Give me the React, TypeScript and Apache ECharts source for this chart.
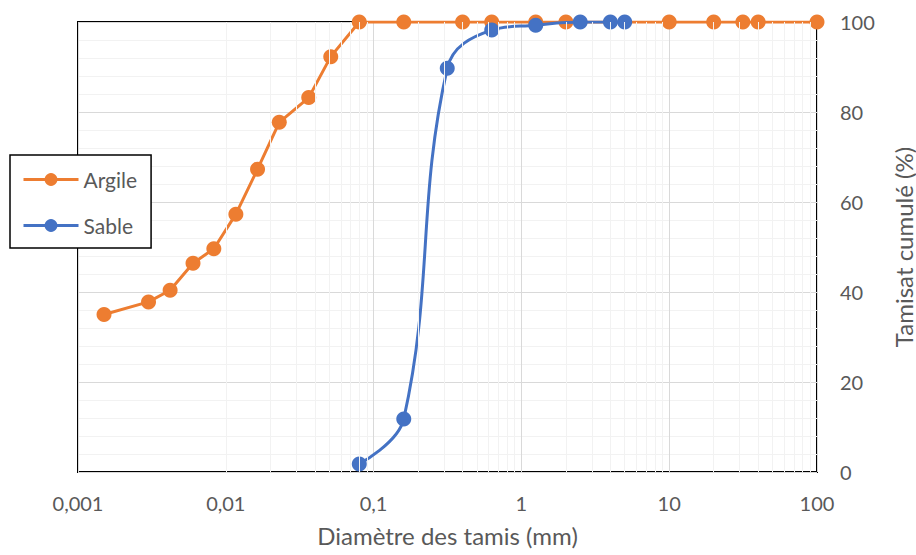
import React, { useEffect, useRef } from "react";
import * as echarts from "echarts";

const argileX = [0.0015, 0.003, 0.0042, 0.006, 0.0083, 0.0117, 0.0164, 0.023, 0.0364, 0.0513, 0.08, 0.16, 0.4, 0.63, 1.25, 2, 10, 20, 31.5, 40, 100];
const argileY = [35, 37.8, 40.4, 46.4, 49.6, 57.3, 67.3, 77.7, 83.2, 92.3, 100, 100, 100, 100, 100, 100, 100, 100, 100, 100, 100];
const sableX = [0.08, 0.16, 0.315, 0.63, 1.25, 2.5, 4, 5];
const sableY = [1.8, 11.8, 89.7, 98.2, 99.3, 100, 100, 100];
const xTickLabels = ["0,001", "0,01", "0,1", "1", "10", "100"];
const yTicks = [0, 20, 40, 60, 80, 100];

const FONT = "Lato";
const TEXT = "#595959";

export default function App() {
  const ref = useRef<HTMLDivElement>(null);
  useEffect(() => {
    if (!ref.current) return;
    const chart = echarts.init(ref.current, null, { renderer: "svg" });
    const minorX: number[] = [];
    for (let e = -3; e <= 1; e++) {
      for (let k = 2; k <= 9; k++) minorX.push(+(k * Math.pow(10, e)).toPrecision(3));
    }
    const decades = [0.001, 0.01, 0.1, 1, 10, 100];
    chart.setOption({
      animation: false,
      textStyle: { fontFamily: FONT },
      grid: {
        left: 78, top: 22, width: 739, height: 450,
        containLabel: false,
        outerBoundsMode: "none",
        show: true, borderColor: "#000", borderWidth: 2, backgroundColor: "transparent",
      },
      legend: {
        data: ["Argile", "Sable"],
        orient: "vertical",
        left: 10, top: 155,
        padding: [14, 14, 12, 12],
        itemWidth: 55, itemHeight: 16, itemGap: 25,
        backgroundColor: "#fff",
        borderColor: "#000", borderWidth: 1.5, borderRadius: 0,
        lineStyle: { width: 3 },
        textStyle: { color: TEXT, fontSize: 21, fontFamily: FONT },
      },
      xAxis: {
        type: "log", logBase: 10, min: 0.001, max: 100,
        name: "Diamètre des tamis (mm)",
        nameLocation: "middle", nameGap: 51,
        nameTextStyle: { color: TEXT, fontSize: 24, fontFamily: FONT },
        axisLine: { show: false }, axisTick: { show: false },
        axisLabel: {
          color: TEXT, fontSize: 20, margin: 21, fontFamily: FONT,
          formatter: (v: number) => {
            const i = decades.findIndex((d) => Math.abs(Math.log10(d) - Math.log10(v)) < 1e-6);
            return i >= 0 ? xTickLabels[i] : "";
          },
        },
        splitLine: { show: true, lineStyle: { color: "#D9D9D9", width: 1 } },
      },
      yAxis: {
        type: "value", position: "right", min: 0, max: 100, interval: 20,
        name: "Tamisat cumulé (%)",
        nameLocation: "middle", nameGap: 74, nameRotate: 90,
        nameTextStyle: { color: TEXT, fontSize: 24, fontFamily: FONT },
        axisLine: { show: false }, axisTick: { show: false },
        axisLabel: {
          color: TEXT, fontSize: 20, margin: 23, fontFamily: FONT,
          formatter: (v: number) => (yTicks.includes(v) ? String(v) : ""),
        },
        splitLine: { show: true, lineStyle: { color: "#D9D9D9", width: 1 } },
        minorTick: { show: false, splitNumber: 5 },
        minorSplitLine: { show: true, lineStyle: { color: "#F2F2F2", width: 1 } },
      },
      series: [
        {
          name: "minor",
          type: "line",
          data: [],
          z: 1,
          silent: true,
          markLine: {
            silent: true,
            symbol: ["none", "none"],
            label: { show: false },
            lineStyle: { color: "#F2F2F2", width: 1, type: "solid" },
            data: minorX.map((v) => ({ xAxis: v })),
          },
        },
        {
          name: "Argile",
          type: "line",
          data: argileX.map((x, i) => [x, argileY[i]]),
          symbol: "circle", symbolSize: 15,
          lineStyle: { color: "#ED7D31", width: 3 },
          itemStyle: { color: "#ED7D31" },
          z: 3,
        },
        {
          name: "Sable",
          type: "line",
          data: sableX.map((x, i) => [x, sableY[i]]),
          smooth: 0.4,
          symbol: "circle", symbolSize: 15,
          lineStyle: { color: "#4472C4", width: 3 },
          itemStyle: { color: "#4472C4" },
          z: 4,
        },
      ],
    });
    return () => chart.dispose();
  }, []);
  return <div ref={ref} style={{ position: "fixed", left: 0, top: 0, width: 916, height: 555, background: "#fff" }} />;
}
